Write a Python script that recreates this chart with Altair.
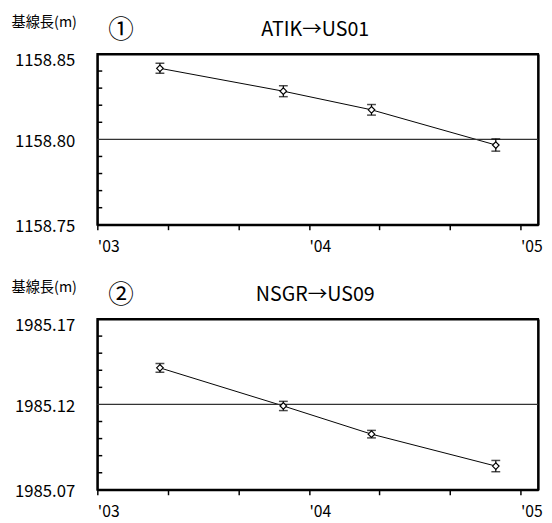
import altair as alt
import pandas as pd

FONT = "Noto Sans CJK JP"

# ---- data ----
months = [3.55, 10.55, 15.55, 22.6]          # months since Jan 2003
p1_values = [1158.8416, 1158.8282, 1158.8173, 1158.7967]
p1_errors = [0.0029, 0.0032, 0.0031, 0.0036]
p2_values = [1985.1414, 1985.1191, 1985.1026, 1985.0839]
p2_errors = [0.0026, 0.0027, 0.0022, 0.0033]

panel_numbers = ["①", "②"]
panel_titles = ["ATIK→US01", "NSGR→US09"]
y_title = "基線長(m)"

p1_labels = [1158.75, 1158.80, 1158.85]
p2_labels = [1985.07, 1985.12, 1985.17]
p1_minor = [1158.76, 1158.77, 1158.78, 1158.79, 1158.81, 1158.82, 1158.83, 1158.84]
p2_minor = [1985.08, 1985.09, 1985.10, 1985.11, 1985.13, 1985.14, 1985.15, 1985.16]

x_label_months = [0, 12, 24]
x_labels = ["'03", "'04", "'05"]
x_tick_months = list(range(0, 26))
x_domain = [0, 25]

W, H = 449, 174

label_expr = " : ".join(
    f'datum.value == {m} ? "{t}"' for m, t in zip(x_label_months, x_labels)
) + ' : ""'


def panel(values, errors, labels, minor, number, title):
    lo, mid, hi = labels
    df = pd.DataFrame({
        "month": months,
        "value": values,
        "low": [v - e for v, e in zip(values, errors)],
        "high": [v + e for v, e in zip(values, errors)],
    })
    xscale = alt.Scale(domain=x_domain, nice=False, zero=False)
    yscale = alt.Scale(domain=[lo, hi], nice=False, zero=False)
    xenc = alt.X("month:Q", scale=xscale,
                 axis=alt.Axis(values=x_tick_months, labelExpr=label_expr,
                               tickSize=5, tickWidth=1.5, tickColor="black",
                               domainWidth=2, domainColor="black",
                               labelAlign="left", labelFlush=False,
                               labelOverlap=False, labelPadding=9,
                               labelFont=FONT, labelFontSize=16, labelColor="black",
                               grid=False, title=None))
    yenc = alt.Y("value:Q", scale=yscale,
                 axis=alt.Axis(values=labels, format=".2f", ticks=False, grid=False,
                               domainWidth=2, domainColor="black",
                               labelPadding=23, labelFont=FONT, labelFontSize=17,
                               labelColor="black", labelBaseline="middle",
                               labelOffset={"condition": {"test": f"datum.value == {hi}", "value": 7},
                                            "value": 2},
                               title=y_title, titleAngle=0, titleX=-88, titleY=-28,
                               titleAlign="left", titleBaseline="alphabetic",
                               titleFont=FONT, titleFontSize=14.5, titleFontWeight="normal",
                               titleColor="black"))
    base = alt.Chart(df)
    line = base.mark_line(color="black", strokeWidth=1).encode(x=xenc, y=yenc)
    # invisible layer whose axes draw the top and right edges of the frame
    frame = base.mark_point(opacity=0).encode(
        x=alt.X("month:Q", scale=xscale,
                axis=alt.Axis(orient="top", labels=False, ticks=False, grid=False,
                              domainWidth=2, domainColor="black", title=None)),
        y=alt.Y("value:Q", scale=yscale,
                axis=alt.Axis(orient="right", labels=False, ticks=False, grid=False,
                              domainWidth=2, domainColor="black", title=None)))
    stems = base.mark_rule(color="black", strokeWidth=1.2).encode(
        x="month:Q", y="low:Q", y2="high:Q")
    caps_lo = base.mark_tick(color="black", size=9, thickness=1.5, orient="horizontal").encode(
        x="month:Q", y="low:Q")
    caps_hi = base.mark_tick(color="black", size=9, thickness=1.5, orient="horizontal").encode(
        x="month:Q", y="high:Q")
    pts = base.mark_point(shape="diamond", size=45, filled=True, fill="white",
                          stroke="black", strokeWidth=1.2, opacity=1).encode(
        x="month:Q", y="value:Q")
    ref = alt.Chart(pd.DataFrame({"v": [mid]})).mark_rule(color="#333", strokeWidth=1.2).encode(
        y=alt.Y("v:Q", scale=yscale))
    ticks = alt.Chart(pd.DataFrame({"v": minor})).mark_rule(color="black", strokeWidth=1.5).encode(
        y=alt.Y("v:Q", scale=yscale), x=alt.value(0), x2=alt.value(5))
    num = alt.Chart(pd.DataFrame({"t": [number]})).mark_text(
        font=FONT, fontSize=26, color="black", align="center", baseline="middle").encode(
        text="t:N", x=alt.value(24), y=alt.value(-24))
    ttl = alt.Chart(pd.DataFrame({"t": [title]})).mark_text(
        font=FONT, fontSize=20, color="black", align="center", baseline="middle").encode(
        text="t:N", x=alt.value(222), y=alt.value(-24))
    data_layers = alt.layer(line, ref, ticks, stems, caps_lo, caps_hi, pts, num, ttl)
    return alt.layer(data_layers, frame).resolve_axis(x="independent", y="independent").properties(
        width=W, height=H)


chart = alt.vconcat(
    panel(p1_values, p1_errors, p1_labels, p1_minor, panel_numbers[0], panel_titles[0]),
    panel(p2_values, p2_errors, p2_labels, p2_minor, panel_numbers[1], panel_titles[1]),
    spacing=24,
).properties(
    padding={"left": 2, "top": 1, "right": 0, "bottom": 0},
    background="white",
).configure_view(stroke="black", strokeWidth=2)

chart.save("out.html", embed_options={"renderer": "svg", "actions": False})
